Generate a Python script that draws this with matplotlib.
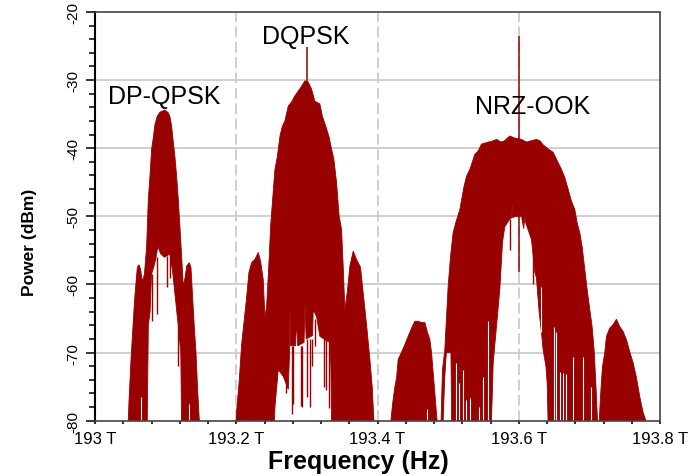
import numpy as np
import matplotlib
matplotlib.use("Agg")
import matplotlib.pyplot as plt
from matplotlib.ticker import FixedLocator, MultipleLocator

plt.rcParams['font.family'] = ['Liberation Sans', 'DejaVu Sans']

RED = '#990000'

# ---- DP-QPSK (193.1 THz) ----
dpq_up_f = [193.0471, 193.0481, 193.0510, 193.0542, 193.0566, 193.0599, 193.0623, 193.0646, 193.0670,
            193.0700, 193.0731, 193.0755, 193.0778, 193.0802, 193.0826, 193.0849, 193.0882, 193.0920,
            193.0991, 193.1038, 193.1062, 193.1085, 193.1109, 193.1132, 193.1156, 193.1179, 193.1203,
            193.1227, 193.1250, 193.1275, 193.1298, 193.1335, 193.1359, 193.1382, 193.1406, 193.1430,
            193.1453, 193.1476, 193.1480]
dpq_up_p = [-80, -77.2, -71, -65.4, -61.5, -57.5, -57.1, -57.8, -59.6,
            -58.5, -54.4, -47.5, -44.1, -40.1, -38.4, -36.5, -35.3, -34.7,
            -34.4, -34.8, -35.4, -36.8, -39.1, -41.3, -44.1, -47.5, -51.6,
            -55.9, -60.3, -59.0, -57.3, -56.8, -57.5, -61.8, -66.2, -70,
            -75.4, -79.8, -80]
dpq_hole_f = [193.0740, 193.0755, 193.0780, 193.0800, 193.0830, 193.0860, 193.0890, 193.0930,
              193.0980, 193.1020, 193.1060, 193.1100, 193.1140, 193.1180, 193.1215, 193.1225]
dpq_hole_p = [-80, -66, -64, -58.5, -57.5, -56.3, -54.4, -55.5,
              -56, -55.8, -55.5, -58.2, -62.2, -66.2, -70, -80]
dpq_line_f = [193.0802, 193.0873, 193.1014, 193.1062, 193.1179]
dpq_line_lo = [-65.4, -64.4, -60.4, -59, -72]
dpq_line_hi = [-58.5, -56, -55.8, -55.5, -66]
dpq_gap_f = [193.0646, 193.1330]
dpq_gap_lo = [-80, -80]
dpq_gap_hi = [-76.5, -77.6]

# ---- DQPSK (193.3 THz) ----
dqp_up_f = [193.2000, 193.2006, 193.2015, 193.2043, 193.2076, 193.2109, 193.2147, 193.2180, 193.2218,
            193.2265, 193.2312, 193.2345, 193.2382, 193.2406, 193.2430, 193.2463, 193.2487, 193.2515,
            193.2548, 193.2581, 193.2619, 193.2652, 193.2689, 193.2737, 193.2784, 193.2831, 193.2878,
            193.2925, 193.2972, 193.3019, 193.3066, 193.3113, 193.3184, 193.3222, 193.3269, 193.3316,
            193.3349, 193.3382, 193.3420, 193.3457, 193.3491, 193.3514, 193.3538, 193.3571, 193.3609,
            193.3656, 193.3703, 193.3760, 193.3797, 193.3845, 193.3892, 193.3925, 193.3949]
dqp_up_p = [-80, -78.5, -77.4, -74, -68.8, -65.6, -61.9, -58.2, -56.8,
            -56.3, -55.3, -56.6, -59.3, -64.8, -63.2, -56.8, -51.4, -47.5,
            -43.1, -41.3, -38.2, -36.8, -36.0, -33.8, -33.2, -32.3, -31.6,
            -30.9, -30.1, -30.3, -31.3, -33.1, -33.5, -35.4, -36.8, -38.4,
            -40.1, -41.6, -45, -50, -51.9, -57.3, -63.7, -61.2, -57.3,
            -55.1, -56.3, -57.5, -61.2, -65.9, -71, -75, -80]
dqp_hole_f = [193.2540, 193.2548, 193.2595, 193.2666, 193.2737, 193.2755, 193.2760, 193.2770, 193.2840,
              193.2855, 193.2870, 193.2960, 193.2972, 193.2990, 193.3080, 193.3090, 193.3137, 193.3184,
              193.3255, 193.3325, 193.3340, 193.3349]
dqp_hole_p = [-80, -78, -72.5, -73.5, -75.4, -70, -63.7, -69, -69,
              -65.1, -69, -68.5, -62.9, -68, -67.5, -63.7, -64.7, -67.6,
              -68.1, -68.5, -72, -80]
dqp_line_f = [193.2700, 193.2790, 193.2807, 193.2911, 193.2925, 193.3000, 193.3043, 193.3066,
              193.3113, 193.3241, 193.3269, 193.3312]
dqp_line_lo = [-76, -79, -77.6, -77.8, -78, -76.5, -78, -72, -69, -75, -75.5, -78.1]
dqp_line_hi = [-73.5, -69, -69, -69, -69, -68, -68, -68, -65, -68, -68, -68.3]

# ---- NRZ-OOK (193.6 THz) ----
nrz_l_f = [193.4190, 193.4213, 193.4246, 193.4270, 193.4293, 193.4355, 193.4388, 193.4435, 193.4483,
           193.4529, 193.4576, 193.4624, 193.4671, 193.4704, 193.4742, 193.4765, 193.4788, 193.4812,
           193.4836, 193.4845]
nrz_l_p = [-80, -77.6, -75, -73.7, -71, -69.6, -68.8, -67.6, -66.4,
           -65.4, -65.4, -65.6, -65.6, -66.9, -68.1, -70, -72.9, -75.9,
           -79.1, -80]
nrz_m_f = [193.4900, 193.4920, 193.4953, 193.5000, 193.5034, 193.5071, 193.5109, 193.5166, 193.5223,
           193.5261, 193.5308, 193.5378, 193.5426, 193.5472, 193.5567, 193.5614, 193.5685, 193.5750,
           193.5800, 193.5873, 193.5940, 193.6038, 193.6109, 193.6180, 193.6250, 193.6299, 193.6345,
           193.6416, 193.6487, 193.6557, 193.6605, 193.6652, 193.6699, 193.6747, 193.6794, 193.6826,
           193.6864, 193.6897, 193.6935, 193.6968, 193.7006, 193.7039, 193.7067, 193.7091, 193.7115]
nrz_m_p = [-80, -72.5, -69.6, -60.3, -55.9, -52.4, -50.9, -49, -45.7,
           -44.1, -43.1, -40.9, -40.4, -39.4, -39.1, -39, -38.7, -39.1,
           -38.9, -38.2, -38.5, -38.7, -39.1, -38.9, -38.7, -38.9, -39.5,
           -40.1, -40.6, -42.1, -43.1, -44.3, -46, -47.8, -49, -50.9,
           -52.4, -54.4, -57.8, -60.7, -63.7, -66.2, -69.6, -74.4, -80]
nrz_hole1_f = [193.4930, 193.4950, 193.4975, 193.5040, 193.5050]
nrz_hole1_p = [-80, -74, -70, -70, -80]
nrz_hole2_f = [193.5614, 193.5638, 193.5694, 193.5732, 193.5770, 193.5803, 193.5873, 193.5900,
               193.5907, 193.5915, 193.5950, 193.6040, 193.6070, 193.6085, 193.6100, 193.6180,
               193.6228, 193.6250, 193.6289, 193.6322, 193.6345, 193.6385, 193.6402, 193.6415]
nrz_hole2_p = [-80, -71.5, -65.1, -60.7, -53.8, -51.5, -50.4, -50.2,
               -48.2, -50.2, -50, -50, -51.8, -50.2, -51, -53.4,
               -58.2, -59, -64.1, -67.1, -69.6, -72, -74.4, -80]
nrz_r_f = [193.7140, 193.7157, 193.7185, 193.7218, 193.7242, 193.7289, 193.7336, 193.7383, 193.7431,
           193.7478, 193.7525, 193.7572, 193.7620, 193.7667, 193.7714, 193.7761, 193.7800]
nrz_r_p = [-80, -76.5, -72.1, -70, -67.6, -66.4, -65.9, -65.1, -66.2,
           -66.9, -68.1, -69.9, -71.5, -73.7, -76.5, -78.8, -80]
nrz_line_f = [193.5880, 193.6200]
nrz_line_lo = [-55, -60]
nrz_line_hi = [-50.4, -55]
nrz_gap_f = [193.4700, 193.5109, 193.5150, 193.5204, 193.5260, 193.5308, 193.5440, 193.5496,
             193.5567, 193.6320, 193.6500, 193.6530, 193.6580, 193.6620, 193.6670, 193.6770,
             193.6905, 193.7030]
nrz_gap_lo = [-80, -80, -80, -80, -80, -80, -80, -80, -80, -67, -80, -80, -80, -80, -80, -80, -80, -80]
nrz_gap_hi = [-78.3, -71.5, -74.4, -72.6, -77, -76.6, -78, -73.6, -65.4, -60.3, -66.2, -67,
              -72.9, -73, -73.2, -70.6, -70.6, -75]

# carriers
carrier_f = [193.2995, 193.6]
carrier_top = [-25.1, -23.5]
carrier_base = [-31, -58.2]

# axis
xtick_vals = [193.0, 193.2, 193.4, 193.6, 193.8]
xtick_labels = ['193 T', '193.2 T', '193.4 T', '193.6 T', '193.8 T']
ytick_vals = [-80, -70, -60, -50, -40, -30, -20]
ytick_labels = ['-80', '-70', '-60', '-50', '-40', '-30', '-20']

labels = ['DP-QPSK', 'DQPSK', 'NRZ-OOK']
label_f = [193.0983, 193.2987, 193.619]
label_p = [-32.35, -23.5, -33.8]


def lobe(ax, up_f, up_p, holes=()):
    # upper envelope left->right, then back along the floor through the holes
    xs = list(up_f)
    ys = list(up_p)
    for hf, hp in sorted(holes, key=lambda h: -h[0][0]):
        xs += list(hf)[::-1]
        ys += list(hp)[::-1]
    ax.fill(xs, ys, color=RED, lw=0.6, zorder=2)


fig = plt.figure(figsize=(6.95, 4.77), dpi=100)
ax = fig.add_axes([95 / 695, 1 - 421.7 / 477, 565 / 695, 408.7 / 477])

ax.set_xlim(193.0, 193.8)
ax.set_ylim(-80, -20)

# grid
for v in [-70, -60, -50, -40, -30]:
    ax.axhline(v, color='#cccccc', lw=1.3, zorder=0)
for v in [193.2, 193.4, 193.6]:
    ax.axvline(v, color='#cccccc', lw=1.3, ls=(0, (6, 2.5)), zorder=0)

lobe(ax, dpq_up_f, dpq_up_p, [(dpq_hole_f, dpq_hole_p)])
lobe(ax, dqp_up_f, dqp_up_p, [(dqp_hole_f, dqp_hole_p)])
lobe(ax, nrz_l_f, nrz_l_p)
lobe(ax, nrz_m_f, nrz_m_p, [(nrz_hole1_f, nrz_hole1_p), (nrz_hole2_f, nrz_hole2_p)])
lobe(ax, nrz_r_f, nrz_r_p)

ax.vlines(dpq_line_f, dpq_line_lo, dpq_line_hi, color=RED, lw=1.0, zorder=3)
ax.vlines(dqp_line_f, dqp_line_lo, dqp_line_hi, color=RED, lw=1.0, zorder=3)
ax.vlines(nrz_line_f, nrz_line_lo, nrz_line_hi, color=RED, lw=1.0, zorder=3)
ax.vlines(dpq_gap_f, dpq_gap_lo, dpq_gap_hi, color='white', lw=0.8, zorder=3)
ax.vlines(nrz_gap_f, nrz_gap_lo, nrz_gap_hi, color='white', lw=0.8, zorder=3)
ax.vlines(carrier_f, carrier_base, carrier_top, color=RED, lw=1.1, zorder=4)

for t, f, p in zip(labels, label_f, label_p):
    ax.text(f, p, t, ha='center', va='center', fontsize=18, zorder=5)

# ticks
ax.xaxis.set_major_locator(FixedLocator(xtick_vals))
ax.set_xticklabels(xtick_labels, fontsize=12)
ax.xaxis.set_minor_locator(MultipleLocator(0.04))
ax.tick_params(axis='x', which='both', direction='out', length=2.5, width=1.5, color='#333333', pad=5)
ax.yaxis.set_major_locator(FixedLocator(ytick_vals))
ax.set_yticklabels(ytick_labels, fontsize=11, rotation=90, va='center')
ax.yaxis.set_minor_locator(MultipleLocator(2))
ax.tick_params(axis='y', which='major', direction='out', length=6.5, width=1.1, pad=4)
ax.tick_params(axis='y', which='minor', direction='out', length=4.3, width=1.1)

# frame
ax.spines['left'].set_linewidth(1.5)
ax.spines['left'].set_color('black')
for s in ['top', 'right', 'bottom']:
    ax.spines[s].set_linestyle((0, (1, 1)))
    ax.spines[s].set_linewidth(1.2)
    ax.spines[s].set_color('#444444')
for s in ax.spines.values():
    s.set_zorder(6)

ax.set_xlabel('Frequency (Hz)', fontsize=18, fontweight='bold', va='center')
ax.xaxis.set_label_coords(0.4655, -0.0979)
ax.set_ylabel('Power (dBm)', fontsize=12.5, fontweight='bold', va='center')
ax.yaxis.set_label_coords(-0.1168, 0.4397)

fig.savefig('out.png', dpi=100)
plt.close(fig)
